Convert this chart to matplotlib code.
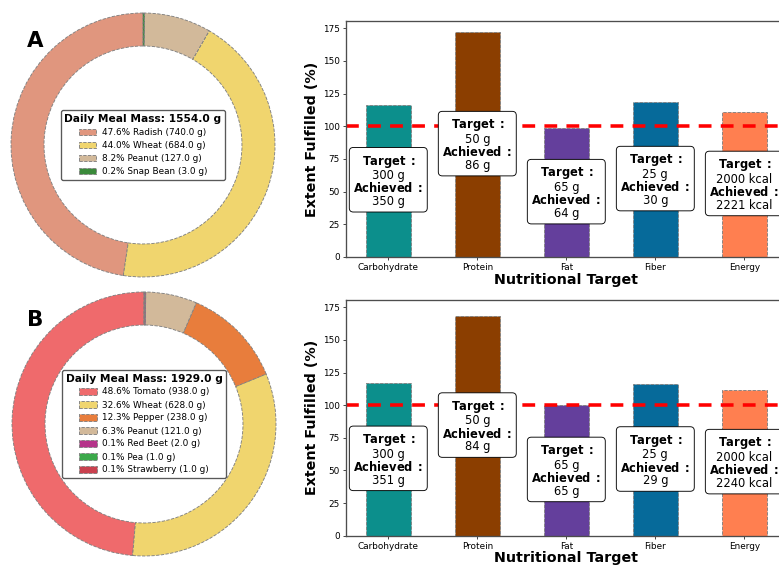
import matplotlib
matplotlib.use("Agg")
import matplotlib.pyplot as plt

# meal composition (grams) for the two plans
foods_a = ["Radish", "Wheat", "Peanut", "Snap Bean"]
mass_a = [740.0, 684.0, 127.0, 3.0]
colors_a = ["#E0967E", "#F0D56E", "#D2B99A", "#3A8A3A"]

foods_b = ["Tomato", "Wheat", "Pepper", "Peanut", "Red Beet", "Pea", "Strawberry"]
mass_b = [938.0, 628.0, 238.0, 121.0, 2.0, 1.0, 1.0]
colors_b = ["#EF6A6C", "#F0D56E", "#E87D3C", "#D2B99A", "#B5338A", "#3BA94A", "#C9404E"]

# nutrition targets
nutrients = ["Carbohydrate", "Protein", "Fat", "Fiber", "Energy"]
units = ["g", "g", "g", "g", "kcal"]
targets = [300, 50, 65, 25, 2000]
achieved_a = [350, 86, 64, 30, 2221]
achieved_b = [351, 84, 65, 29, 2240]
pct_a = [116.7, 172.0, 98.5, 118.5, 111.0]
pct_b = [117.0, 168.0, 100.0, 116.0, 112.0]
bar_colors = ["#0C8F8C", "#8B3E00", "#643F9C", "#066A9A", "#FF7F50"]

W, H = 779, 566
fig = plt.figure(figsize=(W / 64, H / 64), dpi=64)


def px_box(cx, cy, size):
    # axes rect from pixel centre / size
    return [(cx - size / 2) / W, 1 - (cy + size / 2) / H, size / W, size / H]


def draw_pie(ax, foods, mass, colors):
    wedges, _ = ax.pie(mass, colors=colors, startangle=90,
                       wedgeprops=dict(width=0.25, edgecolor="grey",
                                       linestyle="--", linewidth=1))
    total = sum(mass)
    labels = [f"{m / total * 100:.1f}% {f} ({m:.1f} g)" for f, m in zip(foods, mass)]
    leg = ax.legend(wedges, labels, loc="center", fontsize=10,
                    title=f"Daily Meal Mass: {total:.1f} g",
                    title_fontproperties={"weight": "bold", "size": 12},
                    borderpad=0.4, labelspacing=0.45, handletextpad=0.6,
                    framealpha=1)
    leg.get_frame().set_edgecolor("0.35")
    leg.get_frame().set_linewidth(1.5)


def draw_bars(ax, pct, achieved):
    x = list(range(len(nutrients)))
    ax.bar(x, pct, width=0.5, color=bar_colors, edgecolor="grey",
           linestyle="--", linewidth=1)
    ax.axhline(100, color="red", linestyle=(0, (3.6, 2.6)), linewidth=4)
    for i in x:
        txt = (r"$\bf{Target\;:}$" + f"\n{targets[i]} {units[i]}\n"
               + r"$\bf{Achieved\;:}$" + f"\n{achieved[i]} {units[i]}")
        ax.text(i, pct[i] / 2, txt, ha="center", va="center", fontsize=13,
                linespacing=0.95,
                bbox=dict(boxstyle="round,pad=0.35", facecolor="white",
                          edgecolor="black", linewidth=1))
    ax.set_xticks(x)
    ax.set_xticklabels(nutrients, fontsize=10)
    ax.tick_params(axis="y", labelsize=10)
    ax.set_xlabel("Nutritional Target", fontsize=16, fontweight="bold", labelpad=0.5)
    ax.set_ylabel("Extent Fulfilled (%)", fontsize=16, fontweight="bold")
    ax.set_xlim(-0.475, 4.475)
    for s in ax.spines.values():
        s.set_color("0.3")
        s.set_linewidth(1.5)


pie_a = fig.add_axes(px_box(143, 145, 330))
draw_pie(pie_a, foods_a, mass_a, colors_a)
pie_b = fig.add_axes(px_box(144, 424, 330))
draw_pie(pie_b, foods_b, mass_b, colors_b)

bar_a = fig.add_axes([346 / W, 1 - 257 / H, 440.6 / W, 236 / H])
bar_b = fig.add_axes([346 / W, 1 - 535.7 / H, 440.6 / W, 235.7 / H], sharey=bar_a)
draw_bars(bar_a, pct_a, achieved_a)
draw_bars(bar_b, pct_b, achieved_b)
bar_a.set_ylim(0, max(pct_a + pct_b) * 1.05)

fig.text(35 / W, 1 - 41 / H, "A", fontsize=24, fontweight="bold", ha="center", va="center")
fig.text(35 / W, 1 - 320 / H, "B", fontsize=24, fontweight="bold", ha="center", va="center")

fig.savefig("out.png", dpi=64)
